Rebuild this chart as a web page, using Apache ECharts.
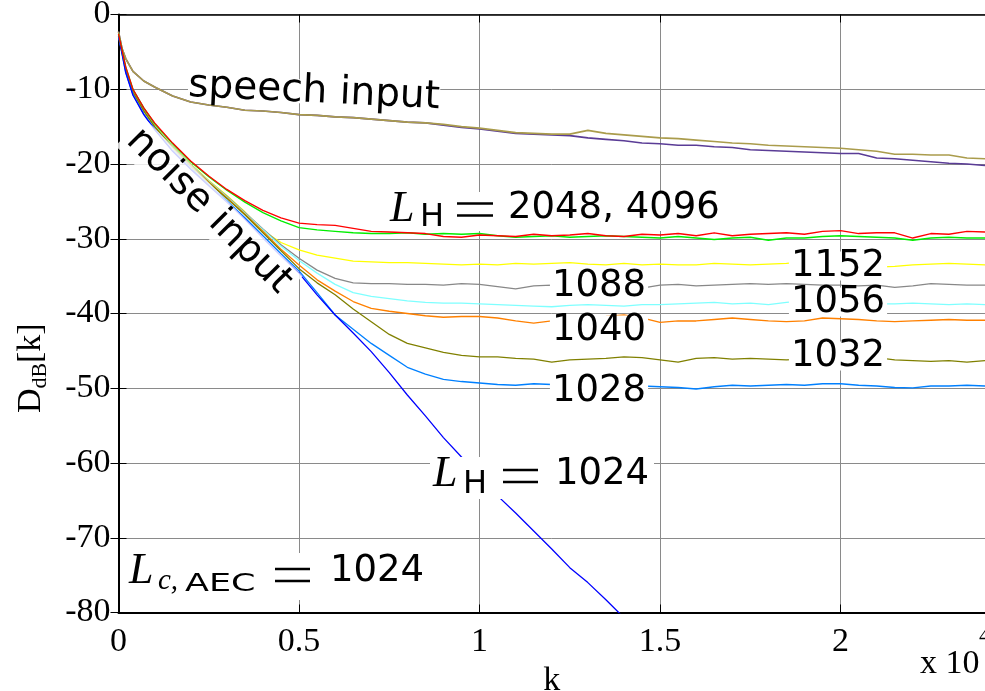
<!DOCTYPE html>
<html>
<head>
<meta charset="utf-8">
<script src="https://cdn.jsdelivr.net/npm/echarts/dist/echarts.min.js"></script>
<style>
  html, body { margin: 0; padding: 0; background: #fff; }
  #chart { width: 985px; height: 691px; }
</style>
</head>
<body>
<div id="chart"></div>
<script>
// Sample instants k (time index) shared by every curve
const kSamples = [0, 100, 200, 400, 700, 1000, 1500, 2000, 2500, 3000,
  3500, 4000, 4500, 5000, 5500, 6000, 6500, 7000, 7500, 8000,
  8500, 9000, 9500, 10000, 10500, 11000, 11500, 12000, 12500, 13000,
  13500, 14000, 14500, 15000, 15500, 16000, 16500, 17000, 17500, 18000,
  18500, 19000, 19500, 20000, 20500, 21000, 21500, 22000, 22500, 23000,
  23500, 24000];

// Speech excitation: system distance D_dB[k]
const speechUpper = [-2.3, -4.6, -5.9, -7.6, -8.9, -9.7, -10.9, -11.7, -12.1, -12.4,
  -12.8, -12.9, -13.1, -13.4, -13.5, -13.7, -13.8, -14.0, -14.2, -14.4,
  -14.5, -14.7, -15.0, -15.2, -15.5, -15.8, -15.9, -16.0, -16.0, -15.5,
  -15.9, -16.1, -16.3, -16.5, -16.6, -16.8, -17.0, -17.2, -17.3, -17.5,
  -17.6, -17.7, -17.8, -17.9, -18.1, -18.3, -18.7, -18.7, -18.8, -18.8,
  -19.2, -19.3];
const speechLower = [-2.3, -4.6, -5.9, -7.6, -8.9, -9.7, -10.9, -11.7, -12.1, -12.4,
  -12.8, -12.9, -13.1, -13.4, -13.5, -13.7, -13.8, -14.0, -14.2, -14.4,
  -14.5, -14.8, -15.1, -15.3, -15.6, -15.9, -16.0, -16.1, -16.2, -16.5,
  -16.7, -16.9, -17.2, -17.3, -17.5, -17.5, -17.7, -17.8, -18.1, -18.2,
  -18.3, -18.4, -18.5, -18.6, -18.6, -19.2, -19.3, -19.5, -19.7, -19.9,
  -20.0, -20.2];

// Noise excitation, one curve per filter length L_H
const noise4096 = [-2.6, -4.8, -7.0, -10.0, -12.5, -14.5, -17.2, -19.6, -21.6, -23.4,
  -24.9, -26.2, -27.2, -27.9, -28.1, -28.2, -28.6, -29.0, -29.1, -29.2,
  -29.3, -29.7, -29.8, -29.5, -29.6, -29.7, -29.4, -29.6, -29.5, -29.3,
  -29.6, -29.7, -29.4, -29.5, -29.3, -29.6, -29.2, -29.6, -29.4, -29.3,
  -29.2, -29.4, -29.0, -28.9, -29.3, -29.2, -29.2, -29.9, -29.3, -29.4,
  -29.0, -29.1];
const noise2048 = [-2.6, -4.8, -7.0, -10.0, -12.5, -14.6, -17.3, -19.7, -21.7, -23.5,
  -25.1, -26.5, -27.6, -28.5, -28.8, -29.0, -29.2, -29.3, -29.3, -29.2,
  -29.4, -29.3, -29.4, -29.3, -29.6, -29.8, -29.7, -29.6, -29.8, -29.7,
  -29.6, -29.7, -29.8, -29.9, -29.7, -29.9, -30.1, -29.9, -29.8, -30.2,
  -29.9, -29.9, -29.7, -29.6, -29.7, -29.8, -29.9, -30.2, -29.9, -29.8,
  -29.9, -29.9];
const noise1152 = [-2.7, -5.0, -7.3, -10.3, -12.8, -14.8, -17.6, -20.0, -22.2, -24.2,
  -26.4, -28.9, -30.5, -31.5, -32.2, -32.6, -33.0, -33.1, -33.2, -33.2,
  -33.3, -33.4, -33.5, -33.4, -33.5, -33.3, -33.4, -33.3, -33.2, -33.4,
  -33.5, -33.3, -33.5, -33.4, -33.5, -33.5, -33.3, -33.4, -33.5, -33.4,
  -33.3, -33.1, -33.2, -33.3, -33.5, -33.8, -33.7, -33.5, -33.4, -33.3,
  -33.4, -33.5];
const noise1088 = [-2.7, -5.0, -7.3, -10.3, -12.8, -14.9, -17.7, -20.1, -22.3, -24.3,
  -26.5, -28.7, -30.8, -32.6, -34.2, -35.3, -35.9, -36.0, -36.0, -36.1,
  -36.1, -36.2, -36.0, -36.1, -36.4, -36.7, -36.3, -36.2, -36.3, -36.2,
  -36.3, -36.3, -36.6, -36.2, -36.1, -36.3, -36.2, -36.1, -36.0, -36.1,
  -36.0, -36.1, -36.2, -36.2, -36.3, -36.2, -36.5, -36.3, -36.0, -36.1,
  -36.2, -36.2];
const noise1056 = [-2.7, -5.0, -7.3, -10.3, -12.8, -14.9, -17.7, -20.1, -22.3, -24.4,
  -26.6, -28.8, -31.0, -32.9, -34.6, -36.1, -37.2, -37.7, -38.0, -38.3,
  -38.5, -38.6, -38.6, -38.7, -38.8, -38.9, -39.0, -39.1, -38.9, -38.8,
  -38.9, -39.0, -38.8, -38.8, -38.7, -38.6, -38.5, -38.7, -38.6, -38.8,
  -38.5, -38.3, -38.6, -38.7, -38.8, -38.7, -38.7, -38.6, -38.7, -38.8,
  -38.7, -38.8];
const noise1040 = [-2.7, -5.0, -7.4, -10.4, -12.9, -15.0, -17.8, -20.2, -22.4, -24.5,
  -26.7, -29.0, -31.4, -33.5, -35.5, -37.0, -38.4, -39.3, -39.7, -40.0,
  -40.3, -40.5, -40.4, -40.4, -40.6, -41.0, -41.3, -41.0, -40.8, -40.5,
  -40.4, -40.2, -40.6, -41.2, -41.0, -41.0, -40.8, -40.6, -40.8, -41.0,
  -41.1, -41.0, -40.6, -40.7, -40.8, -41.0, -41.1, -41.0, -40.9, -40.8,
  -40.9, -40.9];
const noise1032 = [-2.7, -5.0, -7.4, -10.4, -12.9, -15.0, -17.8, -20.3, -22.5, -24.6,
  -26.8, -29.2, -31.6, -34.0, -35.9, -37.5, -39.4, -41.1, -42.8, -44.0,
  -44.6, -45.2, -45.6, -45.8, -45.8, -46.0, -46.1, -46.5, -46.2, -46.1,
  -46.0, -45.8, -45.9, -46.2, -46.5, -46.0, -45.9, -46.1, -46.0, -46.1,
  -46.2, -46.1, -46.5, -46.3, -46.2, -45.9, -46.2, -46.3, -46.4, -46.3,
  -46.5, -46.3];
const noise1028 = [-2.9, -5.3, -7.7, -10.7, -13.3, -15.3, -18.2, -20.6, -22.8, -24.9,
  -27.2, -29.6, -32.0, -34.3, -37.2, -40.2, -42.1, -44.0, -45.6, -47.2,
  -48.1, -48.8, -49.1, -49.3, -49.5, -49.6, -49.4, -49.5, -49.6, -49.7,
  -49.6, -49.6, -49.7, -49.8, -49.9, -50.1, -49.8, -49.6, -49.7, -49.6,
  -49.5, -49.6, -49.4, -49.4, -49.6, -49.7, -49.9, -49.95, -49.7, -49.7,
  -49.6, -49.7];
const noise1024 = [-2.9, -5.3, -7.8, -10.8, -13.4, -15.4, -18.3, -20.7, -22.9, -25.1,
  -27.4, -29.9, -32.3, -34.6, -37.5, -40.2, -42.6, -45.1, -47.9, -50.9,
  -53.7, -56.6, -59.2, -61.7, -64.4, -66.7, -69.1, -71.5, -74.0, -76.0,
  -78.3, -80.7, null, null, null, null, null, null, null, null,
  null, null, null, null, null, null, null, null, null, null,
  null, null];

// Axis ticks
const xTicks = [0, 5000, 10000, 15000, 20000];
const yTicks = [0, -10, -20, -30, -40, -50, -60, -70, -80];

const SANS = '"DejaVu Sans", "Noto Sans", sans-serif';
const SERIF = '"Liberation Serif", "DejaVu Serif", serif';

const curves = [
  { name: 'speech lower', values: speechLower, color: '#5a3c96', width: 1.6 },
  { name: 'speech upper', values: speechUpper, color: '#aa9c4c', width: 1.6 },
  { name: 'L_H=1152', values: noise1152, color: '#ffff00' },
  { name: 'L_H=1088', values: noise1088, color: '#888888' },
  { name: 'L_H=1056', values: noise1056, color: '#7fffff' },
  { name: 'L_H=1040', values: noise1040, color: '#ff8000' },
  { name: 'L_H=1032', values: noise1032, color: '#808000' },
  { name: 'L_H=1028', values: noise1028, color: '#0080ff' },
  { name: 'L_H=1024', values: noise1024, color: '#0000ff' },
  { name: 'L_H=2048', values: noise2048, color: '#00ee00' },
  { name: 'L_H=4096', values: noise4096, color: '#ff0000' }
];

const series = curves.map(c => ({
  name: c.name,
  type: 'line',
  xAxisIndex: 0,
  yAxisIndex: 0,
  showSymbol: false,
  symbol: 'none',
  connectNulls: false,
  clip: true,
  lineStyle: { color: c.color, width: c.width || 1.3 },
  data: kSamples.map((k, i) => [k, c.values[i]])
}));

// text helper for the annotations drawn on top of the plot
function txt(text, x, y, font, opts) {
  const o = opts || {};
  const el = {
    type: 'text', x: x, y: y, z: 100,
    style: Object.assign({
      text: text, font: font, fill: '#000',
      align: o.align || 'left', textAlign: o.align || 'left',
      verticalAlign: 'middle', textVerticalAlign: 'middle'
    }, o.style || {})
  };
  if (o.rotation != null) el.rotation = o.rotation;
  if (o.scaleX != null) el.scaleX = o.scaleX;
  return el;
}
function box(x, y, w, h) {
  return { type: 'rect', z: 99, shape: { x: x, y: y, width: w, height: h }, style: { fill: '#fff' } };
}
// thin two-bar equals sign
function equals(x1, x2, yTop, yBottom) {
  const bar = y => ({ type: 'line', z: 100, shape: { x1: x1, y1: y, x2: x2, y2: y },
    style: { stroke: '#000', lineWidth: 2.6 } });
  return [bar(yTop), bar(yBottom)];
}
const deg = Math.PI / 180;
const numFont = '37px ' + SANS;
const numBg = { backgroundColor: '#fff', lineHeight: 29, padding: [0, 2] };

const graphics = [
  // curve group labels
  txt('speech input', 314, 92, '39px ' + SANS,
    { align: 'center', rotation: -2.8 * deg, style: { backgroundColor: '#fff', lineHeight: 24 } }),
  txt('noise input', 209, 211, '39px ' + SANS,
    { align: 'center', rotation: -45 * deg, style: { backgroundColor: 'rgba(255,255,255,0.82)', lineHeight: 40, padding: [0, 4] } }),

  // L_H = 2048, 4096
  box(386, 192, 340, 39),
  txt('L', 390, 209, 'italic 44px ' + SERIF),
  txt('H', 420, 218, '32px ' + SANS),
  ...equals(457, 493, 203.5, 215.5),
  txt('2048, 4096', 508, 208, numFont),

  // plateau labels
  txt('1088', 599, 286, numFont, { align: 'center', style: numBg }),
  txt('1040', 599, 330, numFont, { align: 'center', style: numBg }),
  txt('1028', 599, 391, numFont, { align: 'center', style: numBg }),
  txt('1152', 838, 266, numFont, { align: 'center', style: numBg }),
  txt('1056', 838, 302, numFont, { align: 'center', style: numBg }),
  txt('1032', 838, 356, numFont, { align: 'center', style: numBg }),

  // L_H = 1024
  box(430, 457, 224, 42),
  txt('L', 433, 474, 'italic 44px ' + SERIF),
  txt('H', 463, 485, '32px ' + SANS),
  ...equals(503, 538, 470, 482),
  txt('1024', 555, 474, numFont),

  // L_c,AEC = 1024
  box(126, 553, 310, 47),
  txt('L', 129, 571, 'italic 44px ' + SERIF),
  txt('c,', 158, 581, 'italic 29px ' + SERIF),
  txt('AEC', 185, 584, '25px ' + SANS, { scaleX: 1.4 }),
  ...equals(275, 310, 569, 581),
  txt('1024', 330, 571, numFont),

  // y axis title D_dB[k], rotated
  {
    type: 'group', x: 31, y: 413, rotation: 90 * deg, z: 100,
    children: [
      txt('D', 0, 0, '34px ' + SERIF),
      txt('dB', 24.5, 9, '22px ' + SERIF),
      txt('[k]', 50, 0, '34px ' + SERIF)
    ]
  },

  // axis multiplier
  txt('x 10', 920, 664, '34px ' + SERIF),
  txt('4', 979, 636, '22px ' + SERIF)
];

const chart = echarts.init(document.getElementById('chart'), null, { renderer: 'canvas' });

const axisLabelStyle = { color: '#000', fontFamily: SERIF, fontSize: 34 };

chart.setOption({
  animation: false,
  backgroundColor: '#fff',
  grid: { left: 118.5, right: 0, top: 14.5, bottom: 78.5, containLabel: false, outerBoundsMode: 'none' },
  xAxis: [
    {
      type: 'value', position: 'bottom', min: xTicks[0], max: 24000, interval: xTicks[1] - xTicks[0],
      name: 'k', nameLocation: 'middle', nameGap: 47,
      nameTextStyle: { color: '#000', fontFamily: SERIF, fontSize: 34 },
      axisLine: { show: true, onZero: false, lineStyle: { color: '#000', width: 2 } },
      axisTick: { show: true, inside: true, length: 8, lineStyle: { color: '#000', width: 1 } },
      axisLabel: {
        show: true, margin: 13, ...axisLabelStyle,
        showMaxLabel: false,
        formatter: v => (xTicks.indexOf(v) >= 0 ? String(v / 10000) : '')
      },
      splitLine: { show: true, lineStyle: { color: '#8a8a8a', width: 1 } }
    },
    {
      type: 'value', position: 'top', min: 0, max: 24000, interval: 5000,
      axisLine: { show: true, onZero: false, lineStyle: { color: '#000', width: 1.5 } },
      axisTick: { show: true, inside: true, length: 8, lineStyle: { color: '#000', width: 1 } },
      axisLabel: { show: false },
      splitLine: { show: false }
    }
  ],
  yAxis: [
    {
      type: 'value', position: 'left', min: -80, max: 0, interval: 10,
      axisLine: { show: true, onZero: false, lineStyle: { color: '#000', width: 2 } },
      axisTick: { show: true, inside: true, length: 8, lineStyle: { color: '#000', width: 1 } },
      axisLabel: {
        show: true, margin: 8, ...axisLabelStyle,
        formatter: v => (yTicks.indexOf(v) >= 0 ? String(v) : '')
      },
      splitLine: { show: true, lineStyle: { color: '#8a8a8a', width: 1 } }
    },
    {
      type: 'value', position: 'right', min: -80, max: 0, interval: 10,
      axisLine: { show: false },
      axisTick: { show: true, inside: true, length: 8, lineStyle: { color: '#000', width: 1 } },
      axisLabel: { show: false },
      splitLine: { show: false }
    }
  ],
  series: series,
  graphic: { elements: graphics }
});
</script>
</body>
</html>
